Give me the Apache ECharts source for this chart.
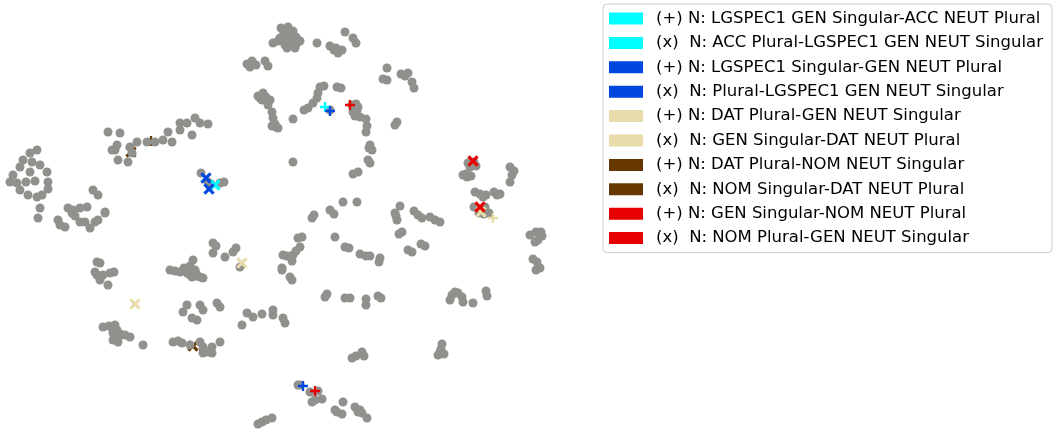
<!DOCTYPE html>
<html>
<head>
<meta charset="utf-8">
<script src="https://cdn.jsdelivr.net/npm/echarts@6/dist/echarts.min.js"></script>
<style>html,body{margin:0;padding:0;background:#fff}#c{width:1059px;height:431px}</style>
</head>
<body>
<div id="c"></div>
<script>
// Embedding coordinates (x right, y down)
const grayPoints = [
 [281,28],[288,27],[293,31],[284,33],[290,36],[280,38],[296,37],[300,41],[286,41],[293,44],[295,48],[287,48],[273,43],[297,43],
 [283,30],[289,32],[285,45],[291,40],[278,41],
 [247,64],[252,61],[256,65],[250,67],[265,61],[268,66],[253,63],
 [258,96],[263,93],[262,100],[266,97],[270,100],[268,105],[260,98],
 [272,112],[273,118],[275,124],[278,128],[272,126],[276,127],
 [293,119],[293,162],
 [317,43],[330,46],[334,50],[338,53],[342,50],[345,32],[353,38],[356,43],[336,48],
 [387,68],[383,79],[387,80],[401,74],[408,73],[405,76],[412,82],[414,88],
 [320,87],[324,86],[337,87],[341,88],[318,93],[317,98],[313,103],[308,108],[304,110],
 [352,105],[356,104],[357,110],[353,112],[355,116],[360,117],[366,119],[367,126],[366,132],[358,107],
 [395,125],[397,122],
 [370,145],[372,150],[368,160],[370,163],[353,174],[358,172],[369,148],
 [201,173],[208,182],[211,184],[220,183],[224,182],[330,110],
 [468,163],[474,162],[470,167],[476,166],
 [463,175],[467,177],[471,176],[466,174],
 [510,167],[514,171],[512,175],[510,182],
 [475,192],[480,194],[486,195],[483,197],[494,192],[500,194],[497,195],
 [474,207],[479,209],[485,207],[484,214],[489,213],[479,213],
 [530,235],[536,232],[541,232],[538,240],[535,242],[542,236],
 [533,259],[537,262],[540,268],[536,270],
 [400,206],[395,213],[397,220],[402,232],[399,234],[414,211],[418,215],[430,217],[435,220],[440,222],[422,218],[396,216],
 [312,218],[314,215],[330,210],[334,214],[343,202],[357,202],
 [302,237],[300,247],[296,251],[293,255],[287,256],[282,268],[292,280],[290,277],[298,238],
 [335,237],[345,247],[349,248],[360,254],[366,256],[370,256],[380,258],[379,262],[408,250],[412,252],[421,244],[425,246],
 [325,297],[327,294],[345,298],[350,298],[366,299],[366,305],[378,296],[381,298],
 [450,300],[452,295],[455,292],[458,293],[462,297],[463,302],[473,303],[486,291],[487,296],
 [440,352],[442,344],[438,355],[444,354],[441,349],
 [352,358],[356,356],[362,352],[364,356],
 [300,385],[298,385],[312,402],[315,400],[322,399],[310,392],[318,391],
 [335,410],[337,412],[343,402],[342,414],[355,407],[360,410],[362,413],[367,418],[358,412],
 [262,422],[266,420],[272,418],[258,424],
 [38,218],[58,220],[65,227],[60,225],[72,213],[75,216],[80,222],[85,222],[90,228],[95,222],[98,220],[105,213],
 [40,208],[68,208],[73,210],[80,208],[87,207],[93,190],[98,195],[105,212],
 [97,262],[100,263],[95,272],[97,275],[100,280],[108,285],[110,273],[114,272],[103,275],
 [213,243],[216,246],[213,253],[225,257],[233,252],[236,248],
 [170,270],[175,271],[180,272],[186,270],[190,266],[193,260],[190,275],[192,277],[197,276],[200,277],[203,278],[187,273],[195,270],[184,268],[196,273],
 [240,267],
 [283,255],[292,261],[282,270],
 [187,305],[183,312],[203,310],[200,305],[197,320],[192,318],[217,303],[220,307],
 [247,313],[253,317],[262,314],[242,325],[273,310],[273,315],[283,318],[285,323],
 [103,327],[109,326],[115,325],[117,330],[113,333],[113,340],[118,342],[118,338],[125,335],[130,337],[143,345],[112,328],[120,334],
 [173,342],[178,341],[182,343],[200,342],[203,347],[203,353],[208,352],[212,353],[212,347],[220,342],[190,345],
 [37,150],[30,153],[23,160],[32,162],[40,165],[20,167],[30,172],[47,172],[13,175],[10,182],[17,183],[26,182],
 [35,181],[48,182],[20,190],[48,189],[28,195],[37,197],[42,195],
 [108,132],[120,133],[117,145],[115,150],[118,160],[128,162],[132,153],[137,142],[147,142],[155,142],[163,140],
 [168,132],[172,142],[180,130],[180,123],[187,123],[195,118],[200,123],[208,124],[192,135],[112,150],[130,147]
];
const cyanPlus = [[325,107]];
const cyanX = [[215,185]];
const bluePlus = [[330,111],[303,386]];
const blueX = [[206,178],[209,189]];
const beigePlus = [[493,218]];
const beigeX = [[135,304],[242,263],[481,212]];
const brownPlus = [[151,141],[204,351]];
const brownX = [[131,152],[193,346]];
const redPlus = [[350,105],[315,391]];
const redX = [[473,161],[480,207]];

const seriesNames = [
 '(+) N: LGSPEC1 GEN Singular-ACC NEUT Plural',
 '(x)  N: ACC Plural-LGSPEC1 GEN NEUT Singular',
 '(+) N: LGSPEC1 Singular-GEN NEUT Plural',
 '(x)  N: Plural-LGSPEC1 GEN NEUT Singular',
 '(+) N: DAT Plural-GEN NEUT Singular',
 '(x)  N: GEN Singular-DAT NEUT Plural',
 '(+) N: DAT Plural-NOM NEUT Singular',
 '(x)  N: NOM Singular-DAT NEUT Plural',
 '(+) N: GEN Singular-NOM NEUT Plural',
 '(x)  N: NOM Plural-GEN NEUT Singular'
];
const seriesData = [cyanPlus, cyanX, bluePlus, blueX, beigePlus, beigeX, brownPlus, brownX, redPlus, redX];
const seriesColors = ['#00ffff','#00ffff','#0047e0','#0047e0','#e8dcaa','#e8dcaa','#663800','#663800','#e60000','#e60000'];

const plusPath = 'path://M-1.3,-5.5H1.3V-1.3H5.5V1.3H1.3V5.5H-1.3V1.3H-5.5V-1.3H-1.3Z';

const series = [{
  name: 'grey', type: 'scatter', data: grayPoints, symbolSize: 9, z: 2,
  itemStyle: { color: '#90918d', opacity: 1 }, silent: true
}];
seriesNames.forEach((n, i) => {
  const isX = n.startsWith('(x)');
  const isBrown = i === 6 || i === 7;
  series.push({
    name: n, type: 'scatter', data: seriesData[i],
    symbol: plusPath, symbolKeepAspect: true,
    symbolSize: isX ? 13 : 10, symbolRotate: isX ? 45 : 0,
    z: isBrown ? 1 : 3,
    itemStyle: { color: seriesColors[i], opacity: 1 }, silent: true
  });
});

const chart = echarts.init(document.getElementById('c'), null, { renderer: 'canvas' });
chart.setOption({
  animation: false,
  grid: { left: 0, top: 0, width: 580, height: 431 },
  xAxis: { type: 'value', min: 0, max: 580, show: false },
  yAxis: { type: 'value', min: 0, max: 431, inverse: true, show: false },
  legend: {
    data: seriesNames.map(n => ({ name: n, icon: 'rect' })),
    orient: 'vertical', left: 603, top: 4,
    padding: [6, 9, 6, 6],
    itemWidth: 34, itemHeight: 12, itemGap: 7.4,
    borderColor: '#cccccc', borderWidth: 1, borderRadius: 4,
    backgroundColor: '#ffffff',
    selectedMode: false,
    textStyle: { fontFamily: 'DejaVu Sans', fontSize: 16.5, color: '#000', lineHeight: 17, padding: [0, 0, 0, 8] }
  },
  series: series
});
</script>
</body>
</html>
